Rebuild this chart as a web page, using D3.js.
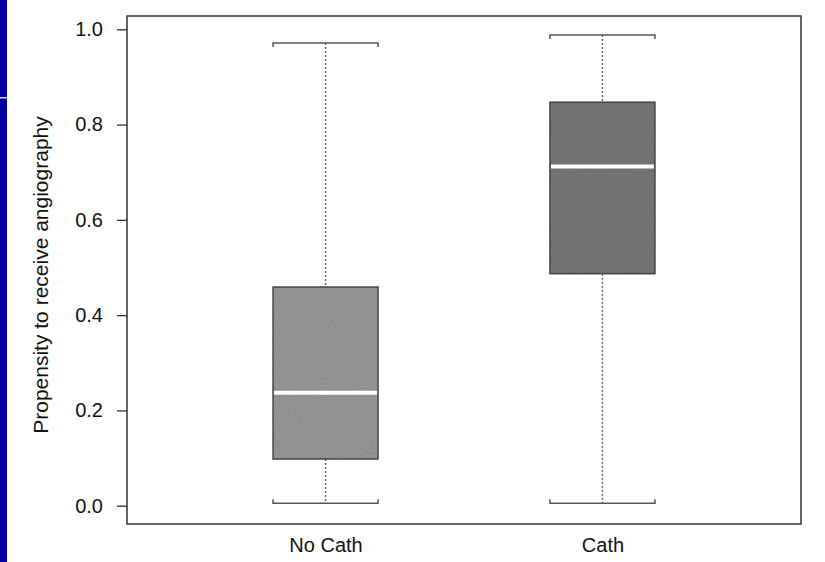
<!DOCTYPE html>
<html>
<head>
<meta charset="utf-8">
<script src="https://cdn.jsdelivr.net/npm/d3@7"></script>
<style>
  body { margin: 0; background: #fff; }
  svg { display: block; font-family: "Liberation Sans", Arial, sans-serif; }
</style>
</head>
<body>
<script>
// data
const groups = ["No Cath", "Cath"];
const lowCap = [0.005, 0.005];
const q1 = [0.098, 0.487];
const median = [0.237, 0.712];
const q3 = [0.459, 0.847];
const highCap = [0.971, 0.988];
const boxFill = ["#969696", "#767676"];
const yTicks = [0.0, 0.2, 0.4, 0.6, 0.8, 1.0];

const width = 825, height = 562;
const plotLeft = 127, plotRight = 801, plotTop = 16, plotBottom = 524;
const fontSize = 20;

const svg = d3.select("body").append("svg")
  .attr("width", width)
  .attr("height", height);

// grainy print look for the boxes
const filt = svg.append("defs").append("filter").attr("id", "grain")
  .attr("x", 0).attr("y", 0).attr("width", 1).attr("height", 1);
filt.append("feTurbulence").attr("type", "fractalNoise").attr("baseFrequency", 0.6).attr("numOctaves", 2).attr("seed", 3).attr("result", "noise");
filt.append("feColorMatrix").attr("in", "noise").attr("type", "matrix")
  .attr("values", "0 0 0 0 0  0 0 0 0 0  0 0 0 0 0  0 0 0 0.3 -0.08").attr("result", "dark");
filt.append("feComposite").attr("in", "dark").attr("in2", "SourceGraphic").attr("operator", "in").attr("result", "spots");
filt.append("feMerge").call(m => {
  m.append("feMergeNode").attr("in", "SourceGraphic");
  m.append("feMergeNode").attr("in", "spots");
});

// blue strip on the slide edge
svg.append("rect").attr("x", 0).attr("y", 0).attr("width", 7).attr("height", height).attr("fill", "#0000a0");
svg.append("rect").attr("x", 0).attr("y", 97).attr("width", 7).attr("height", 1.5).attr("fill", "#e8c8e8");

const y = d3.scaleLinear().domain([0, 1]).range([505.7, 29.3]);
const x = d3.scalePoint().domain(groups).range([plotLeft, plotRight]).padding(0.717);
const boxW = 105;

const rows = groups.map((g, i) => ({
  g, lo: lowCap[i], q1: q1[i], med: median[i], q3: q3[i], hi: highCap[i], fill: boxFill[i]
}));

// frame
svg.append("rect")
  .attr("x", plotLeft).attr("y", plotTop)
  .attr("width", plotRight - plotLeft).attr("height", plotBottom - plotTop)
  .attr("fill", "none").attr("stroke", "#333").attr("stroke-width", 1.5);

// y axis
const yAxis = d3.axisLeft(y).tickValues(yTicks).tickFormat(d3.format(".1f")).tickSize(10).tickPadding(14);
const ya = svg.append("g").attr("transform", "translate(" + plotLeft + ",0)").call(yAxis);
ya.select(".domain").remove();
ya.selectAll("line").attr("stroke", "#333").attr("stroke-width", 1.3);
ya.selectAll("text").attr("font-size", fontSize).attr("fill", "#111").attr("font-family", "Liberation Sans, Arial, sans-serif");

// x labels
const xAxis = d3.axisBottom(x).tickSize(0).tickPadding(14);
const xa = svg.append("g").attr("transform", "translate(0," + plotBottom + ")").call(xAxis);
xa.select(".domain").remove();
xa.selectAll("text").attr("font-size", fontSize).attr("fill", "#111").attr("font-family", "Liberation Sans, Arial, sans-serif");

// y title
svg.append("text")
  .attr("transform", "translate(48,275) rotate(-90)")
  .attr("text-anchor", "middle")
  .attr("font-size", fontSize + 1)
  .attr("fill", "#111")
  .text("Propensity to receive angiography");

const box = svg.selectAll(".box").data(rows).enter().append("g").attr("class", "box");

// whiskers
box.append("line")
  .attr("x1", d => x(d.g)).attr("x2", d => x(d.g))
  .attr("y1", d => y(d.hi)).attr("y2", d => y(d.q3))
  .attr("stroke", "#666").attr("stroke-width", 1.5).attr("stroke-dasharray", "2,2");
box.append("line")
  .attr("x1", d => x(d.g)).attr("x2", d => x(d.g))
  .attr("y1", d => y(d.q1)).attr("y2", d => y(d.lo))
  .attr("stroke", "#666").attr("stroke-width", 1.5).attr("stroke-dasharray", "2,2");

// caps
box.append("path")
  .attr("d", d => {
    const x0 = x(d.g) - boxW / 2, x1 = x(d.g) + boxW / 2, yy = y(d.hi);
    return "M" + x0 + "," + (yy + 4) + "V" + yy + "H" + x1 + "V" + (yy + 4);
  })
  .attr("fill", "none").attr("stroke", "#555").attr("stroke-width", 1.5);
box.append("path")
  .attr("d", d => {
    const x0 = x(d.g) - boxW / 2, x1 = x(d.g) + boxW / 2, yy = y(d.lo);
    return "M" + x0 + "," + (yy - 4) + "V" + yy + "H" + x1 + "V" + (yy - 4);
  })
  .attr("fill", "none").attr("stroke", "#555").attr("stroke-width", 1.5);

// boxes
box.append("rect")
  .attr("x", d => x(d.g) - boxW / 2)
  .attr("y", d => y(d.q3))
  .attr("width", boxW)
  .attr("height", d => y(d.q1) - y(d.q3))
  .attr("fill", d => d.fill)
  .attr("filter", "url(#grain)");
box.append("rect")
  .attr("x", d => x(d.g) - boxW / 2)
  .attr("y", d => y(d.q3))
  .attr("width", boxW)
  .attr("height", d => y(d.q1) - y(d.q3))
  .attr("fill", "none")
  .attr("stroke", "#444").attr("stroke-width", 1.5);

// medians
box.append("line")
  .attr("x1", d => x(d.g) - boxW / 2 + 1).attr("x2", d => x(d.g) + boxW / 2 - 1)
  .attr("y1", d => y(d.med)).attr("y2", d => y(d.med))
  .attr("stroke", "#fff").attr("stroke-width", 4);
</script>
</body>
</html>
